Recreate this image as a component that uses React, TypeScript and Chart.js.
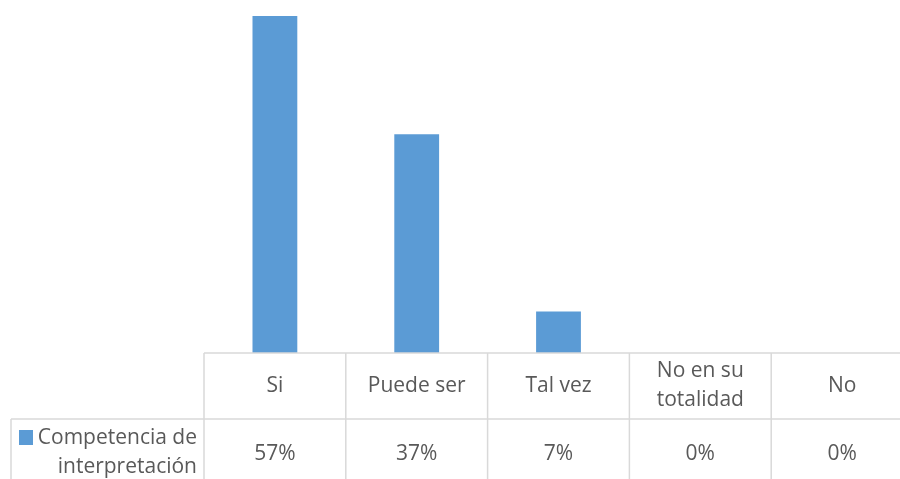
import React, { useEffect, useRef } from "react";
import { Chart, registerables } from "chart.js";

Chart.register(...registerables);

const categories: string[][] = [["Si"], ["Puede ser"], ["Tal vez"], ["No en su", "totalidad"], ["No"]];
const seriesName: string[] = ["Competencia de", "interpretación"];
const values: number[] = [57, 37, 7, 0, 0];

const BAR_COLOR = "#5B9BD5";
const TEXT_COLOR = "#595959";
const GRID_COLOR = "#D9D9D9";
const FONT = '21px "Open Sans", sans-serif';

const tablePlugin = {
  id: "dataTable",
  afterDraw(chart: any) {
    const { ctx, chartArea } = chart;
    const xs = chart.scales.x;
    const left = chartArea.left;
    const right = chartArea.right;
    const top = chartArea.bottom;
    const rowH = 66;
    const mid = top + rowH;
    const bottom = chart.height;
    const n = categories.length;
    const colW = (right - left) / n;
    ctx.save();
    ctx.strokeStyle = GRID_COLOR;
    ctx.lineWidth = 1.5;
    ctx.beginPath();
    ctx.moveTo(left, top);
    ctx.lineTo(right, top);
    ctx.moveTo(11, mid);
    ctx.lineTo(right, mid);
    for (let i = 0; i <= n; i++) {
      const x = left + i * colW;
      ctx.moveTo(x, top);
      ctx.lineTo(x, bottom);
    }
    ctx.moveTo(11, mid);
    ctx.lineTo(11, bottom);
    ctx.stroke();

    ctx.fillStyle = TEXT_COLOR;
    ctx.font = FONT;
    ctx.textAlign = "center";
    ctx.textBaseline = "middle";
    const lh = 29;
    categories.forEach((lines, i) => {
      const cx = xs.getPixelForValue(i);
      const cy = top + rowH / 2;
      lines.forEach((t, j) => {
        ctx.fillText(t, cx, cy + (j - (lines.length - 1) / 2) * lh);
      });
      ctx.fillText(values[i] + "%", cx, mid + 35);
    });

    ctx.textAlign = "right";
    ctx.fillText(seriesName[0], 197, mid + 19);
    ctx.fillText(seriesName[1], 197, mid + 48);
    ctx.fillStyle = BAR_COLOR;
    ctx.fillRect(19, mid + 11, 14, 15);
    ctx.restore();
  },
};

export default function App() {
  const ref = useRef<HTMLCanvasElement>(null);
  useEffect(() => {
    document.body.style.margin = "0";
    const chart = new Chart(ref.current!, {
      type: "bar",
      data: {
        labels: categories.map((c) => c.join(" ")),
        datasets: [
          {
            label: seriesName.join(" "),
            data: values,
            backgroundColor: BAR_COLOR,
            barPercentage: 0.316,
            categoryPercentage: 1,
          },
        ],
      },
      options: {
        animation: false,
        responsive: false,
        layout: { padding: { left: 204, top: 16, bottom: 137, right: 0 } },
        plugins: { legend: { display: false }, tooltip: { enabled: false } },
        scales: {
          x: { display: false },
          y: { display: false, min: 0, max: Math.max(...values) },
        },
      },
      plugins: [tablePlugin],
    });
    return () => chart.destroy();
  }, []);
  return (
    <div style={{ position: "absolute", left: 0, top: 0, width: 900, height: 479, overflow: "hidden", background: "#fff" }}>
      <canvas ref={ref} width={913} height={490} style={{ width: 913, height: 490 }} />
    </div>
  );
}
